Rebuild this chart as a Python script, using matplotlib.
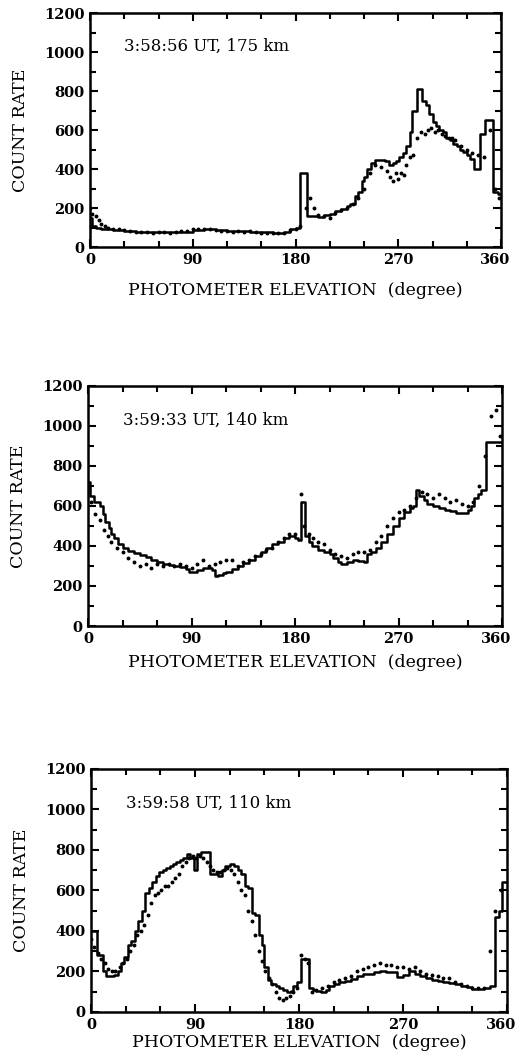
import matplotlib.pyplot as plt
from matplotlib.ticker import MultipleLocator
from matplotlib.transforms import ScaledTranslation

plt.rcParams['font.family'] = ['DejaVu Serif']

# 3:58:56 UT, 175 km
p1_step_x = [0, 2, 5, 10, 15, 20, 30, 40, 50, 60, 70, 80, 90, 95, 100, 105, 110, 120, 130,
             140, 150, 160, 165, 170, 175, 180, 184, 190, 195, 200, 205, 210, 215, 220, 225,
             228, 232, 235, 238, 240, 243, 246, 250, 255, 258, 262, 265, 268, 271, 274, 277,
             280, 282, 286, 291, 294, 297, 300, 303, 306, 309, 312, 315, 318, 321, 324,
             327, 330, 333, 336, 342, 346, 353, 357, 360]
p1_step_y = [150, 110, 100, 95, 90, 85, 80, 78, 75, 75, 75, 78, 85, 88, 92, 90, 85, 80, 80,
             78, 76, 72, 70, 75, 90, 100, 380, 160, 160, 155, 165, 170, 185, 195, 210,
             220, 260, 280, 340, 360, 400, 430, 445, 445, 440, 420, 430, 440, 460, 480, 520,
             590, 700, 810, 750, 730, 680, 640, 620, 600, 590, 560, 550, 530, 520, 500,
             490, 470, 450, 400, 580, 650, 280, 270, 270]
p1_dot_x = [0, 2, 5, 8, 10, 13, 16, 20, 25, 30, 35, 40, 45, 50, 55, 60, 65, 70, 75, 80, 85,
            90, 95, 100, 105, 110, 115, 120, 125, 130, 135, 140, 145, 150, 155, 160, 165, 170,
            175, 180, 184, 189, 193, 196, 200, 205, 210, 215, 220, 225, 230, 235, 240, 245,
            250, 255, 260, 263, 265, 268, 270, 272, 275, 277, 280, 283, 286, 290, 293, 296,
            299, 302, 305, 308, 311, 314, 317, 320, 325, 330, 335, 340, 345, 350, 355, 358]
p1_dot_y = [200, 170, 160, 140, 120, 110, 100, 95, 92, 85, 82, 78, 75, 76, 74, 75, 76, 74, 76,
            80, 84, 90, 92, 95, 92, 88, 84, 80, 78, 80, 78, 80, 76, 74, 72, 74, 70, 72,
            85, 95, 110, 200, 250, 200, 165, 160, 150, 175, 190, 200, 220, 250, 300, 380,
            420, 410, 390, 360, 340, 380, 350, 380, 370, 420, 460, 470, 560, 590, 580, 600,
            610, 590, 600, 580, 570, 560, 560, 550, 520, 500, 480, 470, 460, 600, 300, 250]

# 3:59:33 UT, 140 km
p2_step_x = [0, 2, 5, 10, 13, 15, 18, 20, 23, 26, 30, 35, 40, 45, 50, 55, 60, 65, 70, 75, 80,
             85, 88, 92, 95, 100, 105, 108, 110, 113, 117, 120, 125, 130, 135, 140, 145, 150,
             155, 160, 165, 170, 175, 180, 183, 185, 189, 192, 195, 200, 205, 210, 213, 217,
             220, 225, 230, 235, 240, 243, 246, 250, 255, 260, 265, 270, 275, 280, 283, 285,
             288, 292, 295, 300, 305, 310, 315, 320, 325, 330, 333, 336, 339, 342, 346, 360]
p2_step_y = [720, 650, 620, 600, 560, 520, 490, 460, 440, 410, 390, 375, 365, 355, 345, 330,
             320, 310, 305, 300, 295, 285, 270, 270, 280, 290, 290, 280, 250, 255, 265, 270,
             285, 300, 315, 330, 350, 370, 390, 410, 420, 440, 450, 440, 430, 620, 450, 420,
             400, 380, 370, 360, 340, 320, 310, 320, 330, 325, 320, 360, 370, 390, 420, 460,
             500, 540, 570, 590, 600, 680, 650, 630, 610, 600, 590, 580, 575, 565, 565, 580,
             600, 640, 660, 680, 920, 920]
p2_dot_x = [0, 3, 6, 10, 14, 17, 20, 25, 30, 35, 40, 45, 50, 55, 60, 65, 70, 75, 80, 85, 90,
            95, 100, 105, 110, 115, 120, 125, 130, 135, 140, 145, 150, 155, 160, 165, 170,
            175, 180, 185, 188, 192, 196, 200, 205, 210, 215, 220, 225, 230, 235, 240, 245,
            250, 255, 260, 265, 270, 275, 280, 285, 290, 295, 300, 305, 310, 315, 320, 325,
            330, 335, 340, 345, 350, 355, 358]
p2_dot_y = [700, 620, 560, 530, 480, 450, 420, 390, 370, 340, 320, 300, 310, 290, 310, 300,
            310, 300, 310, 300, 290, 310, 330, 300, 310, 320, 330, 330, 300, 320, 330, 350,
            360, 380, 390, 420, 440, 460, 460, 660, 500, 460, 440, 420, 410, 380, 360, 350,
            340, 360, 370, 370, 380, 420, 450, 500, 540, 570, 580, 600, 640, 670, 660, 640,
            660, 640, 620, 630, 610, 600, 620, 700, 850, 1050, 1080, 950]

# 3:59:58 UT, 110 km
p3_step_x = [0, 5, 10, 13, 17, 20, 23, 26, 29, 32, 35, 38, 41, 44, 47, 50, 53, 56, 59, 62,
             65, 68, 71, 74, 77, 80, 83, 86, 89, 92, 95, 100, 103, 106, 110, 113, 116, 120,
             124, 127, 130, 133, 136, 139, 142, 145, 148, 150, 153, 156, 160, 163, 166, 170,
             173, 175, 178, 182, 189, 192, 195, 199, 203, 206, 210, 215, 220, 225, 230, 235,
             240, 245, 250, 255, 260, 265, 270, 275, 280, 285, 290, 295, 300, 305, 310, 315,
             320, 325, 330, 335, 340, 345, 350, 353, 356, 360]
p3_step_y = [400, 280, 200, 180, 180, 185, 200, 240, 270, 330, 350, 400, 450, 500, 590, 610,
             640, 670, 690, 700, 710, 720, 730, 740, 750, 760, 780, 760, 700, 780, 790, 790,
             680, 680, 670, 700, 720, 730, 720, 700, 680, 620, 610, 490, 480, 380, 330, 220,
             160, 140, 130, 120, 110, 100, 105, 130, 150, 260, 120, 110, 105, 100, 110, 130,
             140, 150, 155, 165, 180, 190, 190, 195, 200, 195, 195, 175, 185, 200, 190, 180,
             170, 160, 155, 150, 145, 140, 130, 125, 115, 115, 120, 130, 470, 500, 640, 640]
p3_dot_x = [0, 3, 6, 9, 12, 15, 18, 21, 25, 28, 31, 34, 37, 40, 43, 46, 49, 52, 55, 58, 61,
            64, 67, 70, 73, 76, 79, 82, 85, 88, 91, 94, 97, 100, 103, 106, 109, 112, 115, 118,
            121, 124, 127, 130, 133, 136, 139, 142, 145, 148, 151, 154, 157, 160, 163, 166,
            169, 172, 175, 178, 182, 185, 188, 191, 195, 200, 205, 210, 215, 220, 225, 230,
            235, 240, 245, 250, 255, 260, 265, 270, 275, 280, 285, 290, 295, 300, 305, 310,
            315, 320, 325, 330, 335, 340, 345, 350, 355]
p3_dot_y = [360, 320, 290, 260, 240, 210, 200, 200, 220, 240, 260, 300, 330, 380, 400, 430,
            480, 540, 580, 590, 600, 620, 620, 640, 660, 680, 720, 740, 760, 770, 760, 770,
            760, 740, 720, 700, 690, 690, 700, 710, 700, 680, 640, 600, 580, 500, 450, 380,
            300, 250, 200, 170, 140, 100, 70, 60, 70, 80, 100, 120, 280, 260, 240, 100, 110,
            120, 130, 150, 160, 170, 180, 200, 210, 220, 230, 240, 230, 230, 220, 220, 210,
            220, 200, 190, 185, 180, 170, 170, 150, 140, 130, 120, 120, 120, 300, 500, 600]

x_ticks = [0, 90, 180, 270, 360]

# label, data, axes rect, xlabel pad
panels = [
    ('3:58:56 UT, 175 km', p1_step_x, p1_step_y, p1_dot_x, p1_dot_y,
     [0.1734, 0.7676, 0.792, 0.2201], 11),
    ('3:59:33 UT, 140 km', p2_step_x, p2_step_y, p2_dot_x, p2_dot_y,
     [0.1696, 0.4111, 0.7977, 0.2258], 6),
    ('3:59:58 UT, 110 km', p3_step_x, p3_step_y, p3_dot_x, p3_dot_y,
     [0.1753, 0.0480, 0.8015, 0.2286], 2),
]

fig = plt.figure(figsize=(5.19, 10.63), dpi=100)

for label, sx, sy, dx, dy, pos, xpad in panels:
    ax = fig.add_axes(pos)
    ax.step(sx, sy, where='post', color='black', linewidth=1.8)
    ax.plot(dx, dy, linestyle='none', marker='o', markersize=1.8, color='black')
    ax.set_xlim(0, 360)
    ax.set_ylim(0, 1200)
    ax.set_xticks(x_ticks)
    ax.xaxis.set_minor_locator(MultipleLocator(30))
    ax.yaxis.set_major_locator(MultipleLocator(200))
    ax.yaxis.set_minor_locator(MultipleLocator(100))
    ax.tick_params(which='both', direction='in', top=True, right=True, width=1.5)
    ax.tick_params(which='major', length=6, labelsize=10.5, pad=4)
    ax.tick_params(which='minor', length=4)
    for t in ax.get_xticklabels() + ax.get_yticklabels():
        t.set_fontweight('bold')
    # nudge "360" left so it stays inside the figure edge
    lab = ax.xaxis.get_major_ticks()[-1].label1
    lab.set_transform(lab.get_transform() + ScaledTranslation(-4 / 72, 0, fig.dpi_scale_trans))
    for s in ax.spines.values():
        s.set_linewidth(1.8)
    ax.text(30, 1030, label, fontsize=12, va='center', ha='left')
    ax.set_xlabel('PHOTOMETER ELEVATION  (degree)', fontsize=12.5, labelpad=xpad)
    ax.set_ylabel('COUNT RATE', fontsize=12.5, labelpad=11)

fig.savefig('out.png', dpi=100)
